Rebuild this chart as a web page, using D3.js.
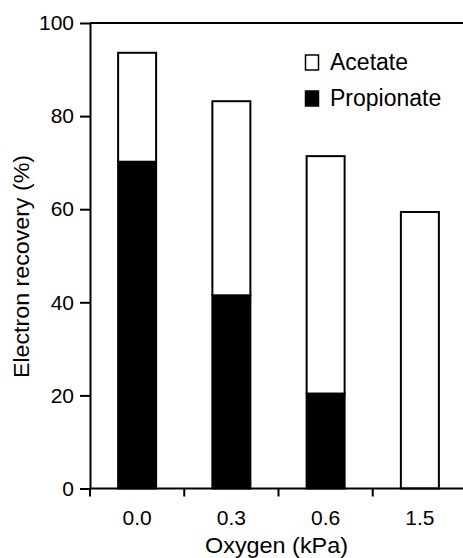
<!DOCTYPE html>
<html>
<head>
<meta charset="utf-8">
<script src="https://cdn.jsdelivr.net/npm/d3@7"></script>
<style>
  body { margin: 0; background: #fff; }
  svg text { font-family: "Liberation Sans", Arial, sans-serif; fill: #000; }
</style>
</head>
<body>
<div id="chart"></div>
<script>
// Oxygen levels on the x axis.
const oxygen = ["0.0", "0.3", "0.6", "1.5"];
// Electron recovery (%) per product.
const propionate = [70.2, 41.5, 20.4, 0];
const acetate = [23.4, 41.7, 51.0, 59.4];
// Y axis ticks.
const yTicks = [0, 20, 40, 60, 80, 100];
const seriesNames = ["Propionate", "Acetate"];

const w = 463, h = 558;
const plotLeft = 90, plotRight = 467, plotTop = 23, plotBottom = 488.5;

const svg = d3.select("#chart")
    .append("svg")
    .attr("width", w)
    .attr("height", h);

const xScale = d3.scaleBand()
    .domain(oxygen)
    .range([plotLeft, plotRight])
    .paddingInner(0);

const yScale = d3.scaleLinear()
    .domain([0, 100])
    .range([plotBottom, plotTop]);

const barW = 38;

// Stack propionate (bottom) and acetate (top).
const rows = oxygen.map((o, i) => ({ oxygen: o, Propionate: propionate[i], Acetate: acetate[i] }));
const stacked = d3.stack().keys(seriesNames)(rows);
const fills = { Propionate: "#000", Acetate: "#fff" };

svg.selectAll("g.layer")
    .data(stacked)
    .enter()
    .append("g")
    .attr("class", "layer")
    .attr("fill", d => fills[d.key])
    .selectAll("rect")
    .data(d => d.filter(s => s[1] - s[0] > 0))
    .enter()
    .append("rect")
    .attr("x", d => xScale(d.data.oxygen) + xScale.bandwidth() / 2 - barW / 2)
    .attr("y", d => yScale(d[1]))
    .attr("width", barW)
    .attr("height", d => yScale(d[0]) - yScale(d[1]))
    .attr("stroke", "#000")
    .attr("stroke-width", 2);

// Y axis.
const yAxis = svg.append("g")
    .attr("transform", `translate(${plotLeft},0)`)
    .call(d3.axisLeft(yScale).tickValues(yTicks).tickSize(10).tickPadding(6).tickSizeOuter(0));
yAxis.select(".domain").attr("stroke-width", 2);
yAxis.selectAll(".tick line").attr("stroke-width", 2);
yAxis.selectAll(".tick text")
    .style("font-size", "21px")
    .style("font-family", "'Liberation Sans', Arial, sans-serif")
    .attr("fill", "#000");

// Top frame line at 100.
svg.append("line")
    .attr("x1", plotLeft).attr("x2", w)
    .attr("y1", yScale(100)).attr("y2", yScale(100))
    .attr("stroke", "#000").attr("stroke-width", 2);

// X axis line, ticks at the band edges.
svg.append("line")
    .attr("x1", plotLeft).attr("x2", w)
    .attr("y1", yScale(0)).attr("y2", yScale(0))
    .attr("stroke", "#000").attr("stroke-width", 2);

svg.selectAll("line.xtick")
    .data(oxygen)
    .enter()
    .append("line")
    .attr("class", "xtick")
    .attr("x1", d => xScale(d)).attr("x2", d => xScale(d))
    .attr("y1", yScale(0)).attr("y2", yScale(0) + 8)
    .attr("stroke", "#000").attr("stroke-width", 2);

svg.selectAll("text.xlabel")
    .data(oxygen)
    .enter()
    .append("text")
    .attr("class", "xlabel")
    .text(d => d)
    .attr("x", d => xScale(d) + xScale.bandwidth() / 2)
    .attr("y", 525)
    .attr("text-anchor", "middle")
    .style("font-size", "21px");

// Axis titles.
svg.append("text")
    .text("Oxygen (kPa)")
    .attr("x", 276.5)
    .attr("y", 553)
    .attr("text-anchor", "middle")
    .attr("textLength", 143)
    .attr("lengthAdjust", "spacingAndGlyphs")
    .style("font-size", "22px");

svg.append("text")
    .text("Electron recovery (%)")
    .attr("transform", "rotate(-90)")
    .attr("x", -266.5)
    .attr("y", 29)
    .attr("text-anchor", "middle")
    .attr("textLength", 223)
    .attr("lengthAdjust", "spacingAndGlyphs")
    .style("font-size", "22px");

// Legend.
const legendItems = ["Acetate", "Propionate"];
const legend = svg.selectAll("g.legend")
    .data(legendItems)
    .enter()
    .append("g")
    .attr("class", "legend")
    .attr("transform", (d, i) => `translate(0,${70 + i * 36})`);

legend.append("rect")
    .attr("x", 305.5)
    .attr("y", -15)
    .attr("width", 13)
    .attr("height", 15)
    .attr("fill", d => fills[d])
    .attr("stroke", "#000")
    .attr("stroke-width", 1.5);

legend.append("text")
    .text(d => d)
    .attr("x", 330)
    .attr("y", 0)
    .style("font-size", "23px");
</script>
</body>
</html>
